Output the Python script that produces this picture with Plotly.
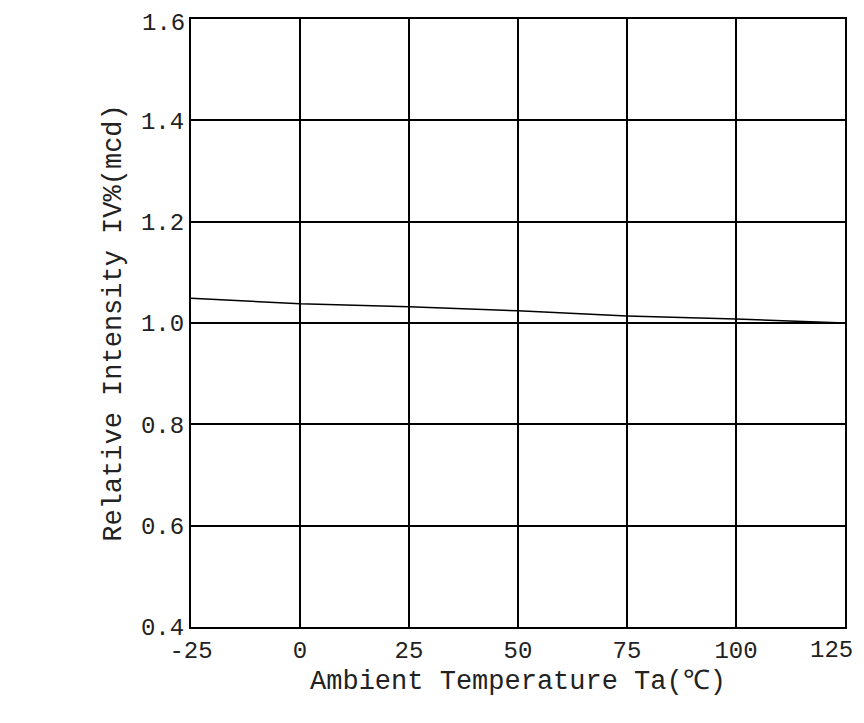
import plotly.graph_objects as go

temps = [-25, 0, 25, 50, 75, 100, 125]
intensity = [1.049, 1.038, 1.032, 1.024, 1.014, 1.008, 1.0]
x_ticks = [-25, 0, 25, 50, 75, 100, 125]
y_ticks = [0.4, 0.6, 0.8, 1.0, 1.2, 1.4, 1.6]

fig = go.Figure()
fig.add_trace(go.Scatter(x=temps, y=intensity, mode="lines",
                         line=dict(color="black", width=1.5), showlegend=False))

font = dict(family="Liberation Mono, DejaVu Sans Mono, monospace", size=24, color="#222")
fig.update_layout(
    width=864, height=723,
    margin=dict(l=183, r=27, t=11, b=104),
    plot_bgcolor="white", paper_bgcolor="white",
    font=font,
)
# edge tick labels get dropped by plotly, so draw them as annotations
fig.add_annotation(x=x_ticks[-1], y=0, xref="x", yref="paper", text=str(x_ticks[-1]),
                   showarrow=False, yanchor="top", yshift=-8, xshift=-14, font=font)
fig.add_annotation(x=0, y=y_ticks[-1], xref="paper", yref="y", text=f"{y_ticks[-1]:.1f}",
                   showarrow=False, xanchor="right", xshift=-4, yshift=-4, font=font)
fig.update_xaxes(range=[-25, 125], tickvals=x_ticks[:-1], ticktext=[str(v) for v in x_ticks[:-1]],
                 showgrid=True, gridcolor="black", gridwidth=2, automargin=False,
                 showline=True, linecolor="black", linewidth=2, mirror=True,
                 zeroline=False, ticks="", ticklen=0,
                 title=dict(text="Ambient Temperature Ta(℃)", font=dict(size=27), standoff=6))
fig.update_yaxes(range=[0.4, 1.6], tickvals=y_ticks[:-1], ticktext=[f"{v:.1f}" for v in y_ticks[:-1]],
                 showgrid=True, gridcolor="black", gridwidth=2, automargin=False,
                 showline=True, linecolor="black", linewidth=2, mirror=True,
                 zeroline=False, ticks="",
                 title=dict(text="Relative Intensity IV%(mcd)", font=dict(size=27), standoff=12))

fig.write_html("out.html")
